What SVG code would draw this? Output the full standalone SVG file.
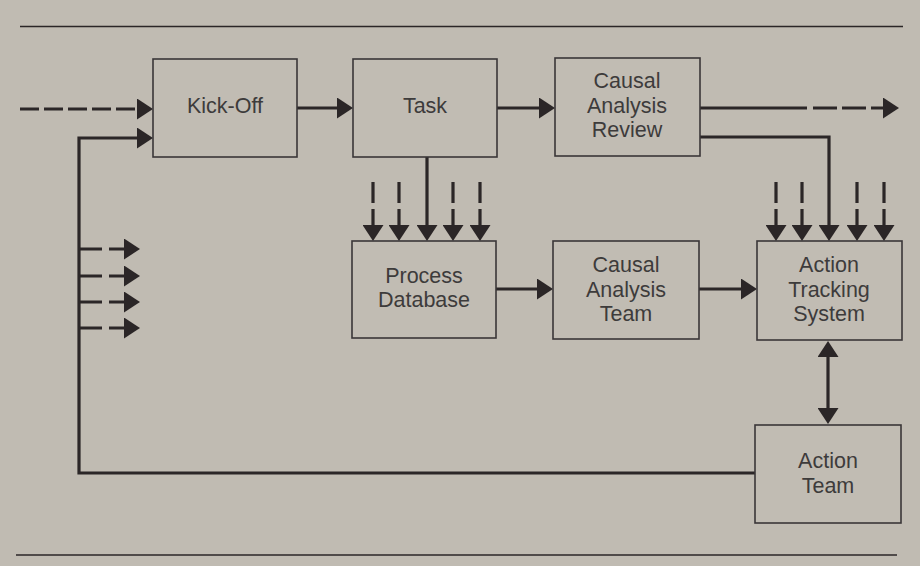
<svg xmlns="http://www.w3.org/2000/svg" width="920" height="566" viewBox="0 0 920 566">
<style>
.bg{fill:#c0bbb2}
.box{fill:#c1bcb3;stroke:#3a3638;stroke-width:1.6}
.t{font-family:"Liberation Sans",Arial,sans-serif;font-size:21.5px;fill:#3d3b3b;text-anchor:middle}
.c{fill:none;stroke:#2b2627;stroke-width:3.2}
.a{marker-end:url(#ah)}
.d{stroke-dasharray:19 5}
.rule{stroke:#2b2627;stroke-width:1.6}
</style>
<defs>
<marker id="ah" viewBox="0 0 16 21" refX="13" refY="10.5" markerWidth="16" markerHeight="21" markerUnits="userSpaceOnUse" orient="auto-start-reverse">
<path d="M0 0 L16 10.5 L0 21 Z" fill="#2b2627"/>
</marker>
</defs>
<rect class="bg" x="0" y="0" width="920" height="566"/>
<line class="rule" x1="20" y1="26.5" x2="903" y2="26.5"/>
<line class="rule" x1="16" y1="555" x2="897" y2="555"/>

<g id="connectors">
<path class="c a d" d="M20 109 H150"/>
<path class="c a" d="M755 473 H79 V138 H150"/>
<path class="c a" d="M297 108 H350"/>
<path class="c a" d="M497 108 H552"/>
<path class="c" d="M700 108 H807"/>
<path class="c a" style="stroke-dasharray:24 5" d="M813 108 H896"/>
<path class="c a" d="M427 157 V238"/>
<path class="c a" d="M700 137 H829 V238"/>
<path class="c a" style="stroke-dasharray:21 6" d="M373 182 V238"/>
<path class="c a" style="stroke-dasharray:21 6" d="M399 182 V238"/>
<path class="c a" style="stroke-dasharray:21 6" d="M453 182 V238"/>
<path class="c a" style="stroke-dasharray:21 6" d="M480 182 V238"/>
<path class="c a" style="stroke-dasharray:21 6" d="M776 182 V238"/>
<path class="c a" style="stroke-dasharray:21 6" d="M802 182 V238"/>
<path class="c a" style="stroke-dasharray:21 6" d="M857 182 V238"/>
<path class="c a" style="stroke-dasharray:21 6" d="M884 182 V238"/>
<path class="c a" d="M496 289 H550"/>
<path class="c a" d="M699 289 H754"/>
<path class="c a" style="marker-start:url(#ah)" d="M828 344 V421"/>
<path class="c a" style="stroke-dasharray:23 7" d="M79 249 H137"/>
<path class="c a" style="stroke-dasharray:23 7" d="M79 276 H137"/>
<path class="c a" style="stroke-dasharray:23 7" d="M79 302 H137"/>
<path class="c a" style="stroke-dasharray:23 7" d="M79 328 H137"/>
</g>

<g id="kickoff">
<rect class="box" x="153" y="59" width="144" height="98"/>
<text class="t" x="225" y="113">Kick-Off</text>
</g>
<g id="task">
<rect class="box" x="353" y="59" width="144" height="98"/>
<text class="t" x="425" y="113">Task</text>
</g>
<g id="car">
<rect class="box" x="555" y="58" width="145" height="98"/>
<text class="t" x="627" y="88">Causal</text>
<text class="t" x="627" y="113">Analysis</text>
<text class="t" x="627" y="137">Review</text>
</g>
<g id="pd">
<rect class="box" x="352" y="241" width="144" height="97"/>
<text class="t" x="424" y="283">Process</text>
<text class="t" x="424" y="307">Database</text>
</g>
<g id="cat">
<rect class="box" x="553" y="241" width="146" height="98"/>
<text class="t" x="626" y="272">Causal</text>
<text class="t" x="626" y="297">Analysis</text>
<text class="t" x="626" y="321">Team</text>
</g>
<g id="ats">
<rect class="box" x="757" y="241" width="145" height="99"/>
<text class="t" x="829" y="272">Action</text>
<text class="t" x="829" y="297">Tracking</text>
<text class="t" x="829" y="321">System</text>
</g>
<g id="at">
<rect class="box" x="755" y="425" width="146" height="98"/>
<text class="t" x="828" y="468">Action</text>
<text class="t" x="828" y="493">Team</text>
</g>
</svg>
